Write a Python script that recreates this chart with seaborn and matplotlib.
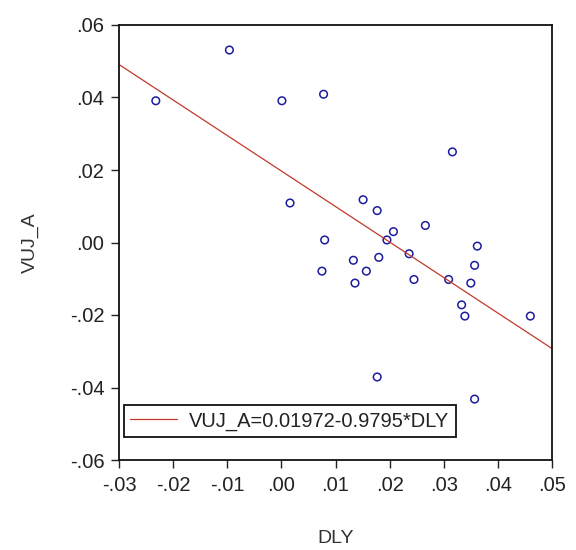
import matplotlib
matplotlib.use("Agg")
import matplotlib.pyplot as plt
import seaborn as sns
import pandas as pd

# Data
dly = [-0.0232, -0.0096, 0.0001, 0.0078, 0.0316, 0.0016, 0.0151, 0.0177,
       0.0266, 0.0207, 0.0195, 0.0080, 0.0362, 0.0236, 0.0357, 0.0133,
       0.0180, 0.0075, 0.0157, 0.0136, 0.0245, 0.0309, 0.0350, 0.0333,
       0.0339, 0.0460, 0.0177, 0.0357]
vuj_a = [0.0391, 0.0531, 0.0391, 0.0409, 0.0250, 0.0109, 0.0118, 0.0088,
         0.0047, 0.0030, 0.0007, 0.0007, -0.0010, -0.0031, -0.0063, -0.0049,
         -0.0041, -0.0079, -0.0079, -0.0112, -0.0102, -0.0102, -0.0112, -0.0172,
         -0.0203, -0.0203, -0.0371, -0.0432]

# Regression line from the legend
intercept = 0.01972
slope = -0.9795
fit_x = [-0.03, 0.05]
fit_label = "VUJ_A=0.01972-0.9795*DLY"

xticks = [-0.03, -0.02, -0.01, 0.00, 0.01, 0.02, 0.03, 0.04, 0.05]
xtick_labels = ["-.03", "-.02", "-.01", ".00", ".01", ".02", ".03", ".04", ".05"]
yticks = [-0.06, -0.04, -0.02, 0.00, 0.02, 0.04, 0.06]
ytick_labels = ["-.06", "-.04", "-.02", ".00", ".02", ".04", ".06"]

df = pd.DataFrame({"DLY": dly, "VUJ_A": vuj_a})
fit = pd.DataFrame({"DLY": fit_x, "VUJ_A": [intercept + slope * v for v in fit_x]})

sns.set_style("ticks")
plt.rcParams["font.family"] = ["Liberation Sans", "DejaVu Sans"]

fig = plt.figure(figsize=(5.76, 5.5), dpi=100)
ax = fig.add_axes([119 / 576, 1 - 460 / 550, 433 / 576, 435 / 550])

sns.lineplot(data=fit, x="DLY", y="VUJ_A", ax=ax, color="#c0392b",
             linewidth=0.9, label=fit_label)
sns.scatterplot(data=df, x="DLY", y="VUJ_A", ax=ax, marker="o",
                facecolor="none", edgecolor="#1c1c9c", s=30, linewidth=1.1)

ax.set_xlim(-0.03, 0.05)
ax.set_ylim(-0.06, 0.06)
ax.set_xticks(xticks)
ax.set_xticklabels(xtick_labels)
ax.set_yticks(yticks)
ax.set_yticklabels(ytick_labels)
ax.tick_params(direction="out", length=5.5, width=1.0, colors="#222222",
               labelsize=14.5)
ax.tick_params(axis="x", pad=6)
ax.tick_params(axis="y", pad=5)

for side in ["top", "right", "left", "bottom"]:
    ax.spines[side].set_visible(True)
    ax.spines[side].set_color("#111111")
    ax.spines[side].set_linewidth(1.3)

ax.set_xlabel("DLY", fontsize=14, color="#333333", labelpad=25)
ax.set_ylabel("VUJ_A", fontsize=14, color="#333333", labelpad=22)

leg = ax.legend(loc="lower left", bbox_to_anchor=(0.0115, 0.053),
                fontsize=14.5, frameon=True, fancybox=False, framealpha=1,
                handlelength=2.3, handletextpad=0.6, borderpad=0.32,
                borderaxespad=0)
leg.get_frame().set_edgecolor("#111111")
leg.get_frame().set_linewidth(1.3)
for t in leg.get_texts():
    t.set_color("#222222")

fig.savefig("out.png", dpi=100)
